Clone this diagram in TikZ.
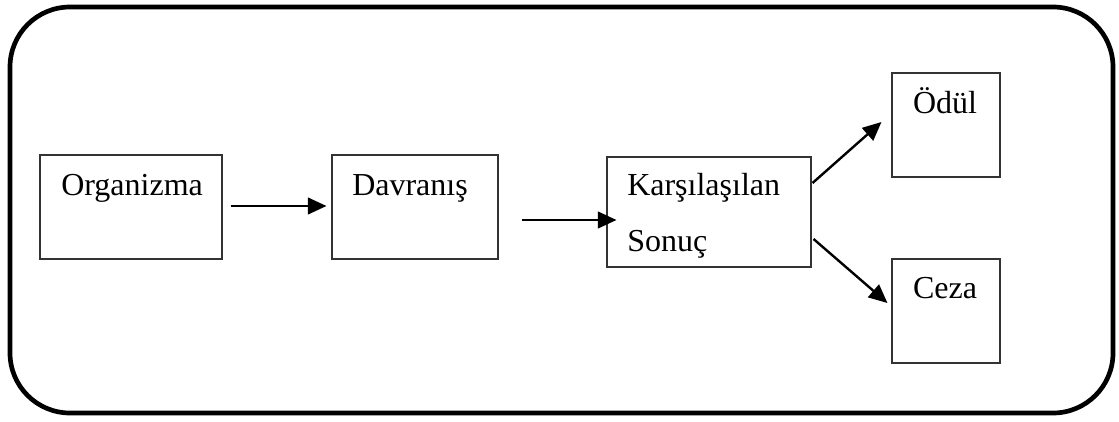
\documentclass[tikz,border=0pt]{standalone}
\usepackage{fontspec}
\setmainfont{Liberation Serif}
\usetikzlibrary{arrows.meta}

\begin{document}
\begin{tikzpicture}[x=0.75pt, y=-0.75pt,
    box/.style={draw=black!80, line width=0.8pt, inner sep=0pt, minimum height=78pt},
    word/.style={inner sep=0pt, font=\fontsize{24}{28}\selectfont},
    arr/.style={line width=1.8pt, -{Triangle[length=14pt, width=12.5pt]}}]
      \useasboundingbox (0,0) rectangle (1119,421);
      \draw[line width=3.5pt, rounded corners=45pt] (10,7) rectangle (1113,413);

      % boxes
      \node[box, minimum width=136.5pt] (org) at (131,207) {};
      \node[box, minimum width=124.5pt] (dav) at (415,207) {};
      \node[box, minimum width=153pt, minimum height=82.5pt] (kars) at (709,212) {};
      \node[box, minimum width=81pt] (odul) at (946,125) {};
      \node[box, minimum width=81pt] (ceza) at (946,311) {};

      % texts
      \node[word, anchor=base west] (torg) at (61,195) {Organizma};
      \node[word, anchor=base west] (tdav) at (352,195) {Davranış};
      \node[word, anchor=base west] (tkars) at (627,195) {Karşılaşılan};
      \node[word, anchor=base west] (tson) at (627,251) {Sonuç};
      \node[word, anchor=base] (todul) at (945,113) {Ödül};
      \node[word, anchor=base] (tceza) at (945,298) {Ceza};

      % arrows
      \draw[arr] ([shift={(8,-1)}]org.east) -- ([shift={(-5,-1)}]dav.west);
      \draw[arr] ([shift={(23,13)}]dav.east) -- ([shift={(10,8)}]kars.west);
      \draw[arr] ([shift={(1,-29)}]kars.east) -- ([shift={(-10,-3)}]odul.west);
      \draw[arr] ([shift={(2,27)}]kars.east) -- ([shift={(-4,-8)}]ceza.west);
\end{tikzpicture}
\end{document}
